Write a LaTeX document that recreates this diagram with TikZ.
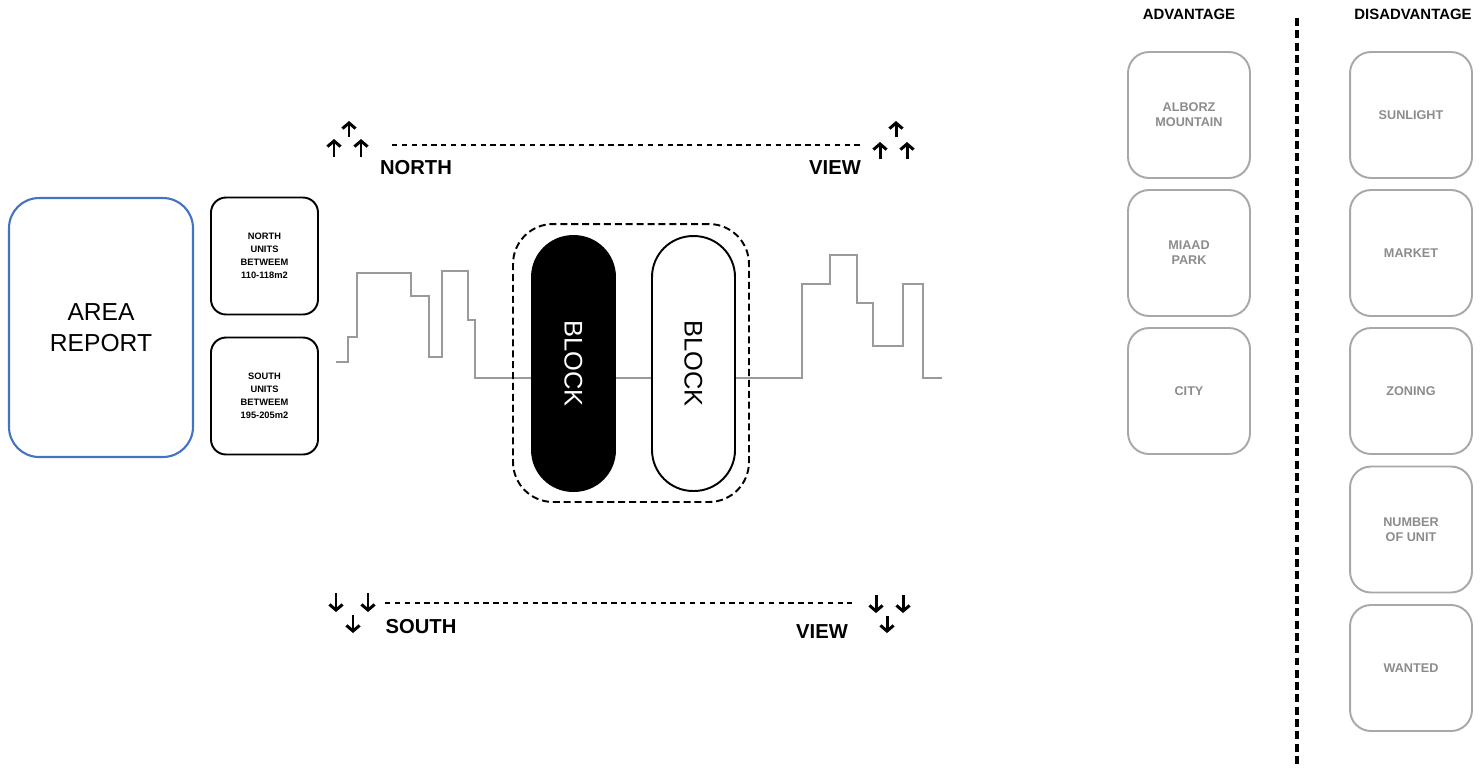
\documentclass[tikz,border=0pt]{standalone}
\usepackage{fontspec}
\setmainfont{Liberation Sans}
\usetikzlibrary{arrows.meta}
\definecolor{areablue}{HTML}{4472C4}
\definecolor{softgray}{HTML}{A8A8A8}
\definecolor{labelgray}{HTML}{8C8C8C}
\definecolor{skygray}{HTML}{9A9A9A}

\begin{document}
\begin{tikzpicture}[
  x=0.02cm, y=-0.02cm,
  title/.style={font=\bfseries\fontsize{8.5}{10}\selectfont},
  dirlabel/.style={font=\bfseries\fontsize{11.5}{13}\selectfont},
  reportbox/.style={draw=areablue, line width=1.2pt, rounded corners=0.6cm, minimum width=3.68cm, minimum height=5.18cm, align=center, font=\fontsize{14}{17.6}\selectfont},
  unitbox/.style={draw, line width=1.1pt, rounded corners=0.3cm, minimum width=2.14cm, minimum height=2.34cm, align=center, font=\bfseries\fontsize{5.3}{7.4}\selectfont},
  factor/.style={draw=softgray, line width=1.1pt, rounded corners=0.42cm, minimum width=2.44cm, minimum height=2.52cm, align=center, text=labelgray, font=\bfseries\fontsize{7.2}{8.5}\selectfont},
  block/.style={draw, line width=1.1pt, rounded corners=0.82cm, minimum width=5.1cm, minimum height=1.66cm, rotate=-90, font=\fontsize{14.5}{16}\selectfont},
  view/.style={line width=1.7pt, -{Straight Barb[length=3.2pt, width=7.5pt]}},
  dashline/.style={line width=1.1pt, dash pattern=on 3pt off 2.6pt}
]
\useasboundingbox (0,0) rectangle (1483,769);

% skyline
\draw[skygray, line width=0.85pt] (336,362) -| (348,337) -| (357,273) -| (411,296) -| (429,357)
  -| (442,271) -| (468,320) -| (475,378) -| (802,284) -| (830,255) -| (857,303) -| (873,346)
  -| (903,284) -| (923,378) -- (942,378);

% left side
\node[reportbox] (report) at (101,327.5) {AREA\\REPORT};
\node[unitbox] (north units) at (264.5,256) {NORTH\\UNITS\\BETWEEM\\110-118m2};
\node[unitbox] (south units) at (264.5,396) {SOUTH\\UNITS\\BETWEEM\\195-205m2};

% blocks
\node[draw, line width=1.1pt, dash pattern=on 4pt off 2.2pt, rounded corners=0.8cm,
  minimum width=4.72cm, minimum height=5.56cm] (site) at (631,363) {};
\node[block, fill=black, text=white] (block a) at (573.5,363.5) {BLOCK};
\node[block, fill=white] (block b) at (693.5,363.5) {BLOCK};

% north view
\node[dirlabel] (north) at (416,168) {NORTH};
\node[dirlabel] (north view) at (835,168) {VIEW};
\coordinate (n1) at (392,145);
\coordinate (n2) at (862,145);
\draw[dashline] (n1) -- (n2);
\draw[view] (349,137) -- (349,121);
\draw[view] (334,157) -- (334,139);
\draw[view] (361,157) -- (361,139);
\draw[view] (896,137) -- (896,121);
\draw[view] (880,159) -- (880,142);
\draw[view] (907,159) -- (907,142);

% south view
\node[dirlabel] (south) at (421,627) {SOUTH};
\node[dirlabel] (south view) at (822,632) {VIEW};
\coordinate (s1) at (385,603);
\coordinate (s2) at (852,603);
\draw[dashline] (s1) -- (s2);
\draw[view] (336,593) -- (336,612);
\draw[view] (368,593) -- (368,612);
\draw[view] (353,615) -- (353,633);
\draw[view] (876,595) -- (876,613);
\draw[view] (903,595) -- (903,613);
\draw[view] (887,616) -- (887,633);

% advantage / disadvantage
\node[title] (adv) at (1189,14) {ADVANTAGE};
\node[title] (disadv) at (1413,14) {DISADVANTAGE};
\coordinate (d1) at (1297,18);
\coordinate (d2) at (1297,766);
\draw[line width=2.2pt, dash pattern=on 4.5pt off 2.5pt] (d1) -- (d2);

\node[factor] (alborz) at (1189,115) {ALBORZ\\MOUNTAIN};
\node[factor] (miaad) at (1189,253) {MIAAD\\PARK};
\node[factor] (city) at (1189,391) {CITY};

\node[factor] (sunlight) at (1411,115) {SUNLIGHT};
\node[factor] (market) at (1411,253) {MARKET};
\node[factor] (zoning) at (1411,391) {ZONING};
\node[factor] (units) at (1411,529.5) {NUMBER\\OF UNIT};
\node[factor] (wanted) at (1411,668) {WANTED};

\end{tikzpicture}
\end{document}
